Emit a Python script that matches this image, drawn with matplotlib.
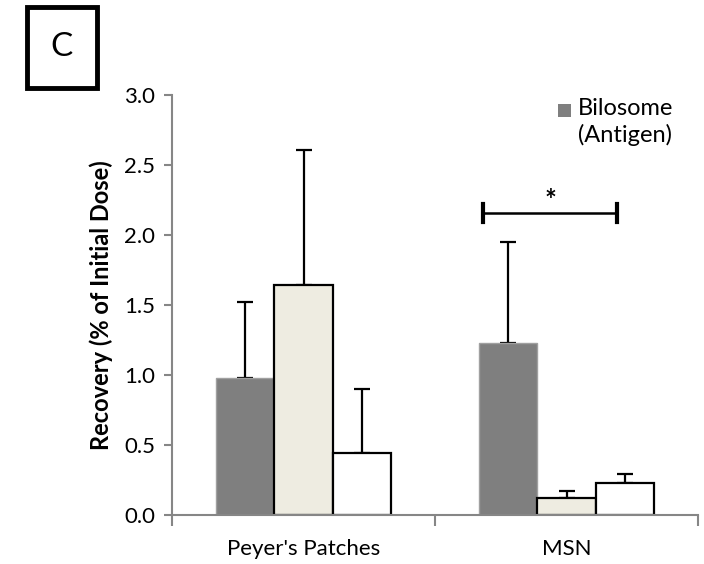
import numpy as np
import matplotlib.pyplot as plt
from matplotlib.patches import Rectangle

plt.rcParams['font.family'] = ['Lato', 'DejaVu Sans']

categories = ["Peyer's Patches", "MSN"]
series_names = ["Bilosome\n(Antigen)", "Series 2", "Series 3"]
means = [
    [0.98, 1.23],   # dark grey
    [1.64, 0.12],   # beige
    [0.44, 0.23],   # white
]
errs = [
    [0.54, 0.72],
    [0.97, 0.05],
    [0.46, 0.06],
]
yticks = [0.0, 0.5, 1.0, 1.5, 2.0, 2.5, 3.0]

fig = plt.figure(figsize=(7.04, 5.64), dpi=100)
ax = fig.add_axes([172/704, 49/564, 526/704, 420/564])

x = np.arange(len(categories))
w = 1/4.5
fills = ['#7f7f7f', '#eeece1', '#ffffff']
edges = ['#a0a0a0', 'black', 'black']
lws = [1.0, 1.6, 1.6]

for i in range(3):
    pos = x + (i - 1) * w
    ax.bar(pos, means[i], width=w, color=fills[i], edgecolor=edges[i],
           linewidth=lws[i], zorder=2)
    ax.errorbar(pos, means[i], yerr=[[0, 0], errs[i]], fmt='none',
                ecolor='black', elinewidth=1.6, capsize=6, capthick=1.6, zorder=1)

ax.set_xlim(-0.5, 1.5)
ax.set_ylim(0, 3.0)
ax.set_yticks(yticks)
ax.set_yticklabels([f'{v:.1f}' for v in yticks], fontsize=16)
ax.set_xticks([-0.5, 0.5, 1.5])
ax.set_xticklabels([])
ax.set_xticks(x, minor=True)
ax.set_xticklabels(categories, minor=True, fontsize=16)
ax.tick_params(axis='x', which='minor', length=0, pad=17)
ax.tick_params(axis='x', which='major', length=8, color='#868686', width=1.5)
ax.tick_params(axis='y', length=6, color='#868686', width=1.5, pad=6)

for s in ['top', 'right']:
    ax.spines[s].set_visible(False)
for s in ['left', 'bottom']:
    ax.spines[s].set_color('#868686')
    ax.spines[s].set_linewidth(1.5)

ax.set_ylabel('Recovery (% of Initial Dose)', fontsize=17, fontweight='bold', labelpad=8)

# significance bracket
bx0, bx1, by = 0.683, 1.192, 2.16
ax.plot([bx0, bx1], [by, by], color='black', lw=1.8, clip_on=False)
ax.plot([bx0, bx0], [by - 0.07, by + 0.06], color='black', lw=3, clip_on=False)
ax.plot([bx1, bx1], [by - 0.07, by + 0.06], color='black', lw=3, clip_on=False)
ax.text((bx0 + bx1) / 2, by - 0.01, '*', ha='center', va='bottom', fontsize=20,
        fontweight='bold')

# legend (only the first entry is visible in the figure)
fig.patches.append(Rectangle((558/704, 1 - 117/564), 13/704, 13/564,
                             transform=fig.transFigure, facecolor=fills[0],
                             edgecolor='none'))
fig.text(578/704, 1 - 98/564, series_names[0], ha='left', va='top',
         fontsize=17, linespacing=1.25)

# panel label box
fig.patches.append(Rectangle((27/704, 1 - 88/564), 70/704, 81/564,
                             transform=fig.transFigure, fill=False,
                             edgecolor='black', linewidth=3.5))
fig.text(62/704, 1 - 47/564, 'C', ha='center', va='center', fontsize=24)

fig.savefig('out.png', dpi=100)
